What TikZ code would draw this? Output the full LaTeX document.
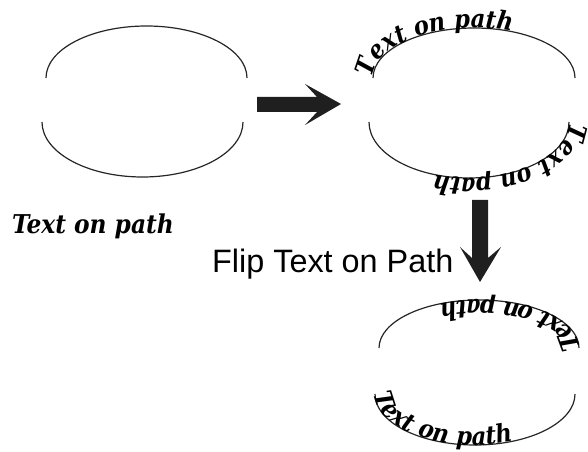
\documentclass[tikz,border=0pt]{standalone}
\usepackage{fontspec}
\newfontfamily\flipfont{Liberation Sans}
\IfFontExistsTF{DejaVu Serif Condensed}
  {\newfontfamily\serifbi{DejaVu Serif Condensed}\newcommand\pathsize{\fontsize{25.3}{30}}\newcommand\plainsize{\fontsize{26}{30}}}
  {\newfontfamily\serifbi{Latin Modern Roman}\newcommand\pathsize{\fontsize{25}{30}}\newcommand\plainsize{\fontsize{25.5}{30}}}
\usetikzlibrary{decorations.text}
\newcommand\onpathfont{\serifbi\pathsize\selectfont\bfseries\itshape}
\newcommand\plainfont{\serifbi\plainsize\selectfont\bfseries\itshape}
\tikzset{
  arcline/.style={draw=black!85, line width=1.2bp},
  blockarrow/.style={fill=black!88, draw=none},
  pathtext/.style={postaction={decorate, decoration={text along path,
      text={|\onpathfont|Text on path}, text align={left indent=0pt}}}},
}
\begin{document}
\begin{tikzpicture}[x=1bp,y=1bp]
\useasboundingbox (0,0) rectangle (588,-452);
% ellipse 1 (plain)
\coordinate (e1t) at (46,-78);
\coordinate (e1b) at (42,-122);
\draw[arcline] (e1t) arc[start angle=180, end angle=0, x radius=100.5, y radius=52];
\draw[arcline] (e1b) arc[start angle=180, end angle=360, x radius=100.5, y radius=55];
\node[anchor=base west, inner sep=0pt, font=\plainfont] (plain) at (12,-234) {Text on path};
% arrow right
\fill[blockarrow] (257,-97) -- (317,-97) -- (305,-84) -- (341,-104) -- (305,-125) -- (317,-112) -- (257,-112) -- cycle;
% ellipse 2 (text on path)
\coordinate (e2t) at (373,-78);
\coordinate (e2b) at (569,-122);
\draw[arcline, pathtext] (e2t) arc[start angle=180, end angle=0, x radius=101, y radius=50];
\draw[arcline, pathtext] (e2b) arc[start angle=0, end angle=-180, x radius=100, y radius=56];
% arrow down
\fill[blockarrow] (472,-200) -- (488,-200) -- (488,-258) -- (501,-247) -- (480,-282) -- (460,-247) -- (472,-258) -- cycle;
\node[anchor=base west, inner sep=0pt, font=\flipfont\fontsize{32.5}{37}\selectfont] (flip) at (212,-273) {Flip Text on Path};
% ellipse 3 (flipped)
\coordinate (e3t) at (579,-348);
\coordinate (e3b) at (375,-394);
\draw[arcline, pathtext] (e3t) arc[start angle=0, end angle=180, x radius=100, y radius=48];
\draw[arcline, pathtext] (e3b) arc[start angle=180, end angle=360, x radius=100, y radius=51];
\end{tikzpicture}
\end{document}
